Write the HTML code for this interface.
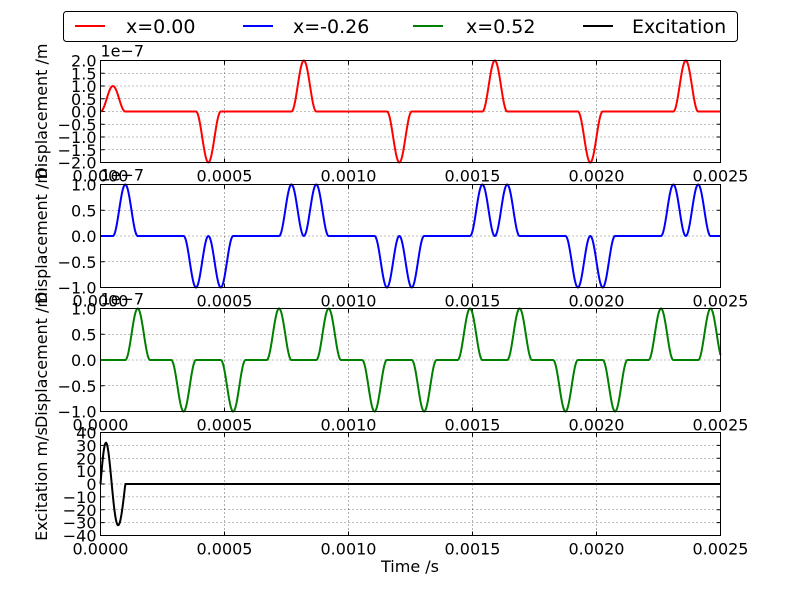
<!DOCTYPE html>
<html><head><meta charset="utf-8"><style>
html,body{margin:0;padding:0;background:#fff;}
svg{display:block;font-family:"DejaVu Sans","Liberation Sans",sans-serif;}
</style></head><body>
<svg id="s" width="800" height="595" xmlns="http://www.w3.org/2000/svg"></svg>
<script>
var s=document.getElementById('s'),out='';
var L=100.5,R=720.5,T=0.0025;
function X(t){return L+(R-L)*t/T;}
function bump(t,c){var d=t-c;if(Math.abs(d)>=0.00005)return 0;return (1+Math.cos(Math.PI*d/0.00005))/2;}
var P=0.000385;
function red(t){var v=0;for(var k=0;k<8;k++){var c=0.00005+k*P;var a=k==0?1:2*(k%2?-1:1);v+=a*bump(t,c);}return v;}
function blue(t){var v=bump(t,0.0001);for(var k=1;k<8;k++){var c=0.00005+k*P,sg=(k%2?-1:1);v+=sg*(bump(t,c-0.00005)+bump(t,c+0.00005));}return v;}
function green(t){var v=bump(t,0.00015);for(var k=1;k<8;k++){var c=0.00005+k*P,sg=(k%2?-1:1);v+=sg*(bump(t,c-0.0001)+bump(t,c+0.0001));}return v;}
function exc(t){if(t>=0.0001)return 0;var u=t/0.0001;return 32*Math.sin(2*Math.PI*u+0.3*Math.sin(Math.PI*u));}
var axes=[
 {y0:60.5,y1:162.5,min:-2,max:2,step:0.5,f:red,col:'#ff0000',lab:'Displacement /m',dec:1,off:true},
 {y0:184.5,y1:287.5,min:-1,max:1,step:0.5,f:blue,col:'#0000ff',lab:'Displacement /m',dec:1,off:true},
 {y0:308.5,y1:411.5,min:-1,max:1,step:0.5,f:green,col:'#008000',lab:'Displacement /m',dec:1,off:true},
 {y0:432.5,y1:535.5,min:-40,max:40,step:10,f:exc,col:'#000',lab:'Excitation m/s',dec:0,off:false}];
axes.forEach(function(a){
 function Y(v){return a.y1-(a.y1-a.y0)*(v-a.min)/(a.max-a.min);}
 for(var i=0;i<=5;i++){var x=X(i*0.0005);out+='<line x1="'+x+'" x2="'+x+'" y1="'+a.y0+'" y2="'+a.y1+'" stroke="#000" stroke-width="0.6" stroke-dasharray="1,3"/>';
  out+='<line x1="'+x+'" x2="'+x+'" y1="'+a.y1+'" y2="'+(a.y1-4)+'" stroke="#000"/><line x1="'+x+'" x2="'+x+'" y1="'+a.y0+'" y2="'+(a.y0+4)+'" stroke="#000"/>';
  out+='<text x="'+x+'" y="'+(a.y1+19)+'" font-size="16" text-anchor="middle">'+(i*0.0005).toFixed(4)+'</text>';}
 var n=Math.round((a.max-a.min)/a.step);
 for(var j=0;j<=n;j++){var v=a.min+j*a.step,y=Y(v);
  out+='<line x1="'+L+'" x2="'+R+'" y1="'+y+'" y2="'+y+'" stroke="#000" stroke-width="0.6" stroke-dasharray="1,3"/>';
  out+='<line x1="'+L+'" x2="'+(L+4)+'" y1="'+y+'" y2="'+y+'" stroke="#000"/><line x1="'+R+'" x2="'+(R-4)+'" y1="'+y+'" y2="'+y+'" stroke="#000"/>';
  var t=v.toFixed(a.dec).replace('-','\u2212');
  out+='<text x="'+(L-4)+'" y="'+(y+6)+'" font-size="16" text-anchor="end">'+t+'</text>';}
 var d='';for(var k=0;k<=1240;k++){var t=T*k/1240;d+=(k?'L':'M')+X(t).toFixed(2)+','+Y(a.f(t)).toFixed(2);}
 out+='<path d="'+d+'" fill="none" stroke="'+a.col+'" stroke-width="2"/>';
 out+='<rect x="'+L+'" y="'+a.y0+'" width="'+(R-L)+'" height="'+(a.y1-a.y0)+'" fill="none" stroke="#000"/>';
 if(a.off)out+='<text x="'+L+'" y="'+(a.y0-4)+'" font-size="16">1e\u22127</text>';
 var cy=(a.y0+a.y1)/2;
 out+='<text transform="translate(47,'+cy+') rotate(-90)" font-size="16" text-anchor="middle">'+a.lab+'</text>';
});
out+='<text x="410" y="572" font-size="16" text-anchor="middle">Time /s</text>';
out+='<rect x="63.5" y="11.5" width="674" height="30" rx="3" fill="#fff" stroke="#000"/>';
var leg=[[75,126,'#ff0000','x=0.00'],[243,293,'#0000ff','x=-0.26'],[413,466,'#008000','x=0.52'],[583,632,'#000','Excitation']];
leg.forEach(function(l){out+='<line x1="'+l[0]+'" x2="'+(l[0]+30)+'" y1="26" y2="26" stroke="'+l[2]+'" stroke-width="2"/><text x="'+l[1]+'" y="33" font-size="19">'+l[3]+'</text>';});
s.innerHTML=out;
</script>
</body></html>
